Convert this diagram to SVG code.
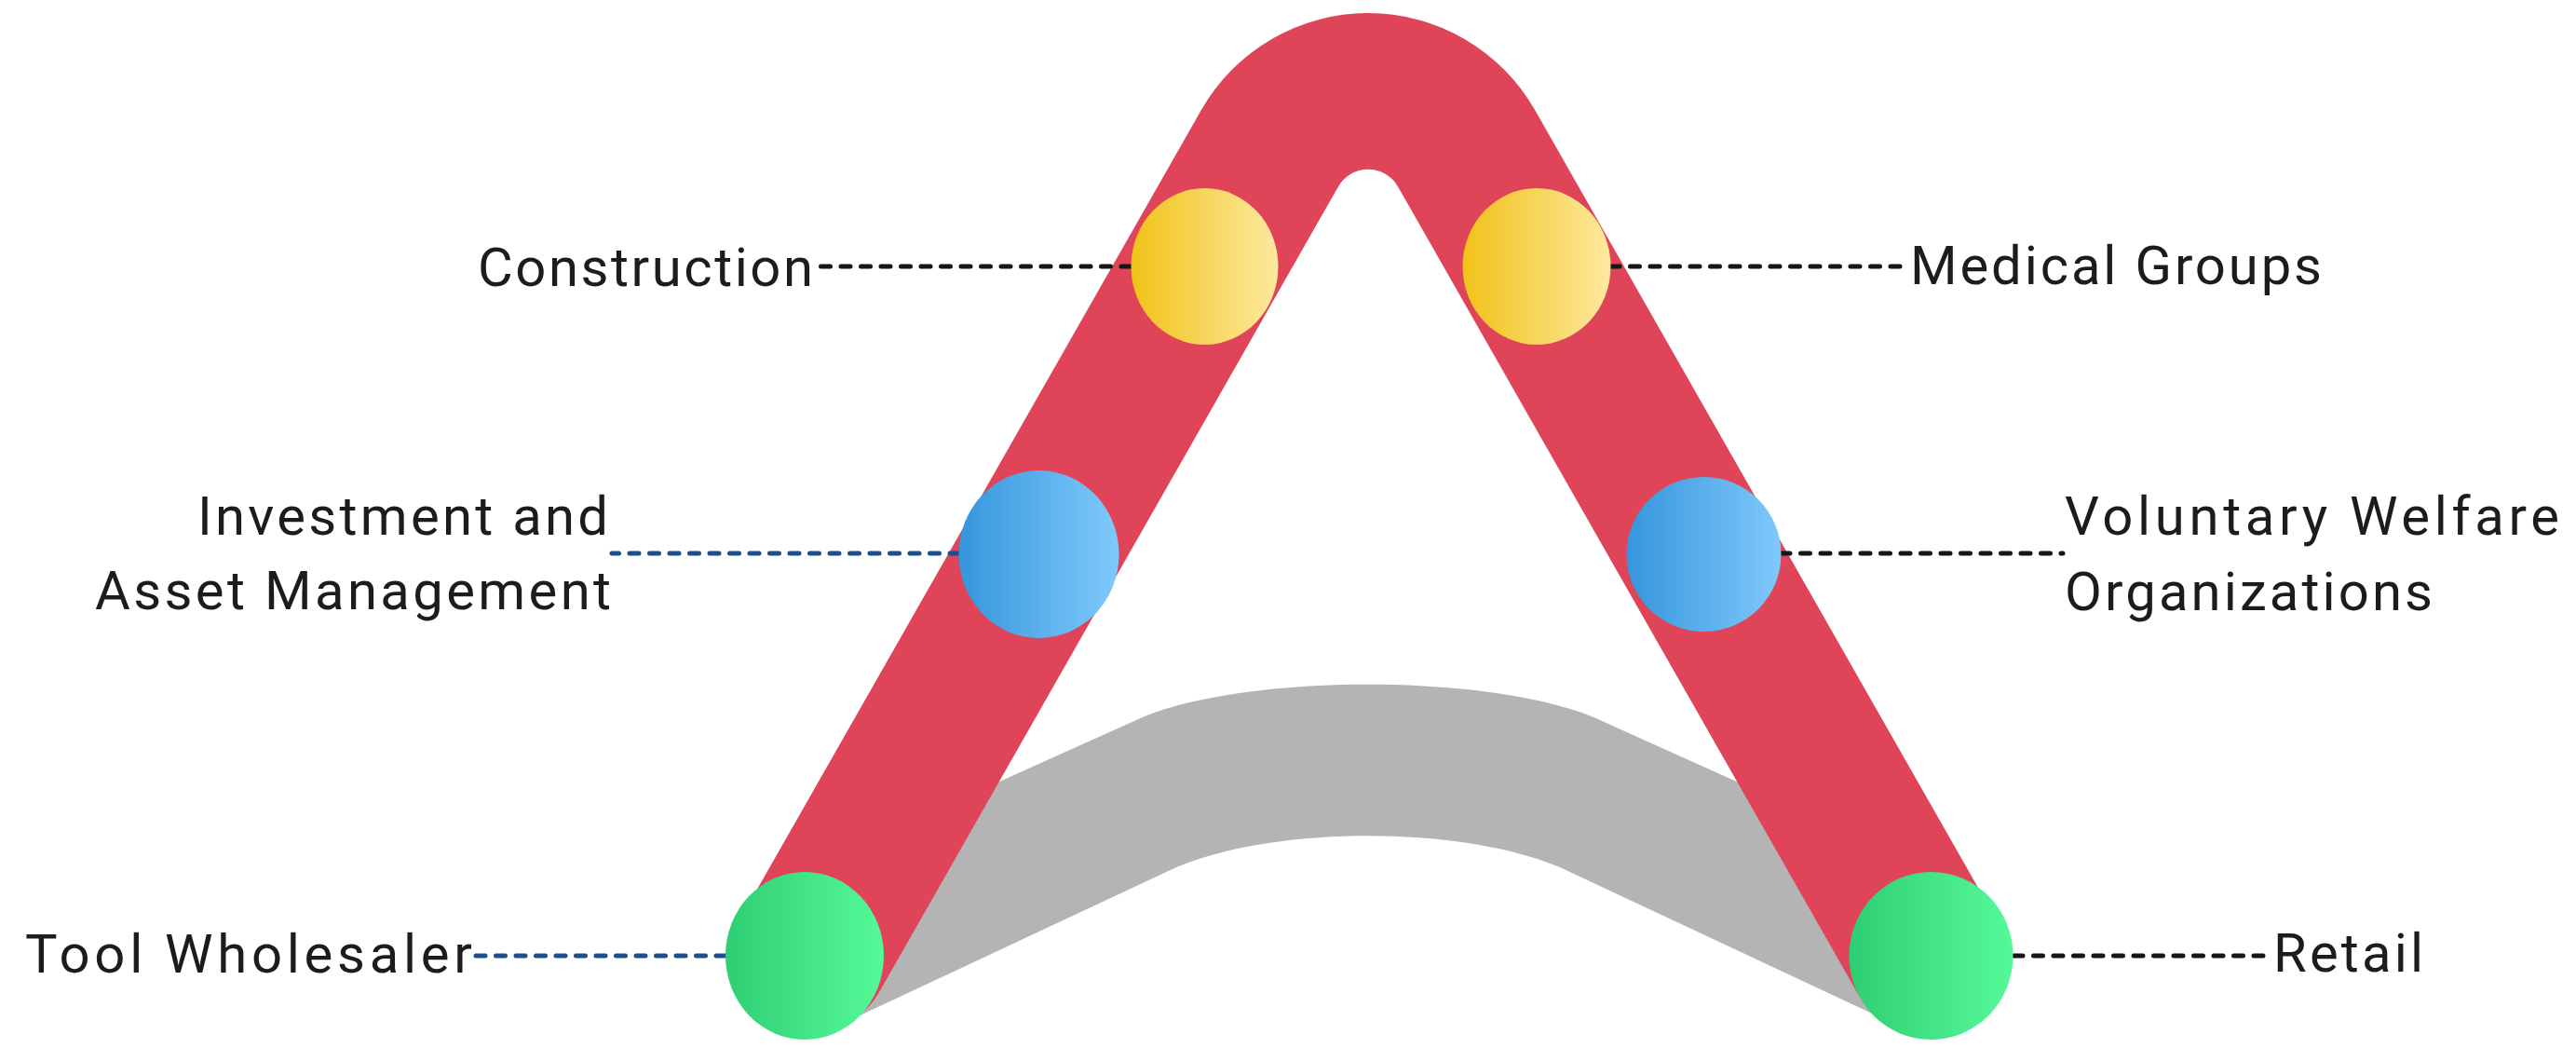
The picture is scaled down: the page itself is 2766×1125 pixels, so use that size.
<svg xmlns="http://www.w3.org/2000/svg" width="2766" height="1125" viewBox="0 0 2766 1125">
  <defs>
    <linearGradient id="gYellow" x1="0" y1="0" x2="1" y2="0">
      <stop offset="0" stop-color="#f1c218"/>
      <stop offset="1" stop-color="#fde99f"/>
    </linearGradient>
    <linearGradient id="gBlue" x1="0" y1="0" x2="1" y2="0">
      <stop offset="0" stop-color="#3596dc"/>
      <stop offset="1" stop-color="#80c9fb"/>
    </linearGradient>
    <linearGradient id="gGreen" x1="0" y1="0" x2="1" y2="0">
      <stop offset="0" stop-color="#2ecf73"/>
      <stop offset="1" stop-color="#56f99a"/>
    </linearGradient>
    <style>
      .lbl { font-family: Roboto, "Liberation Sans", sans-serif; font-size: 58px; fill: #1c1c1c; }
      .dash { fill: none; stroke-width: 5; stroke-dasharray: 10 11.5; stroke-linecap: round; }
      .dk { stroke: #161616; }
      .bl { stroke: #1d5089; }
    </style>
  </defs>
  <rect width="2766" height="1125" fill="#ffffff"/>

  <g id="arc-gray">
    <path fill="#b4b4b4" d="M 1000,872 L 1220,773 C 1330,722 1608,722 1718,773 L 1938,872 L 2074,1026 L 2023,1094 L 1675,931 C 1568,886 1370,886 1263,931 L 915,1094 L 864,1026 Z"/>
  </g>

  <g id="band-red">
    <path fill="#df4458" d="M 796.1,984.3 L 1289.9,118.1 A 206.2 206.2 0 0 1 1648.1,118.1 L 2141.9,984.3 A 84.3 84.3 0 0 1 1995.5,1067.7 L 1501.1,200.4 A 37 37 0 0 0 1436.9,200.4 L 942.5,1067.7 A 84.3 84.3 0 0 1 796.1,984.3 Z"/>
  </g>

  <g id="connectors">
    <path class="dash dk" d="M 1214,286 L 876,286"/>
    <path class="dash dk" d="M 1729,286 L 2048,286"/>
    <path class="dash bl" d="M 1030,594 L 657,594"/>
    <path class="dash dk" d="M 1912,594 L 2215,594"/>
    <path class="dash bl" d="M 779,1026 L 507,1026"/>
    <path class="dash dk" d="M 2162,1026 L 2437,1026"/>
  </g>

  <g id="node-construction">
    <ellipse cx="1293.5" cy="286" rx="79" ry="84" fill="url(#gYellow)"/>
    <text class="lbl" x="513" y="307" textLength="360" lengthAdjust="spacing">Construction</text>
  </g>
  <g id="node-medical-groups">
    <ellipse cx="1650" cy="286" rx="79.5" ry="84" fill="url(#gYellow)"/>
    <text class="lbl" x="2051" y="305" textLength="442" lengthAdjust="spacing">Medical Groups</text>
  </g>
  <g id="node-investment">
    <ellipse cx="1115.5" cy="595" rx="86" ry="90" fill="url(#gBlue)"/>
    <text class="lbl" x="212" y="574" textLength="441" lengthAdjust="spacing">Investment and</text>
    <text class="lbl" x="102" y="654" textLength="554" lengthAdjust="spacing">Asset Management</text>
  </g>
  <g id="node-voluntary-welfare">
    <ellipse cx="1829.5" cy="595" rx="83" ry="83" fill="url(#gBlue)"/>
    <text class="lbl" x="2217" y="574" textLength="531" lengthAdjust="spacing">Voluntary Welfare</text>
    <text class="lbl" x="2217" y="655" textLength="395" lengthAdjust="spacing">Organizations</text>
  </g>
  <g id="node-tool-wholesaler">
    <ellipse cx="864" cy="1026" rx="85" ry="90" fill="url(#gGreen)"/>
    <text class="lbl" x="27" y="1044" textLength="480" lengthAdjust="spacing">Tool Wholesaler</text>
  </g>
  <g id="node-retail">
    <ellipse cx="2073.5" cy="1026" rx="88" ry="90" fill="url(#gGreen)"/>
    <text class="lbl" x="2441" y="1043" textLength="161" lengthAdjust="spacing">Retail</text>
  </g>
</svg>
